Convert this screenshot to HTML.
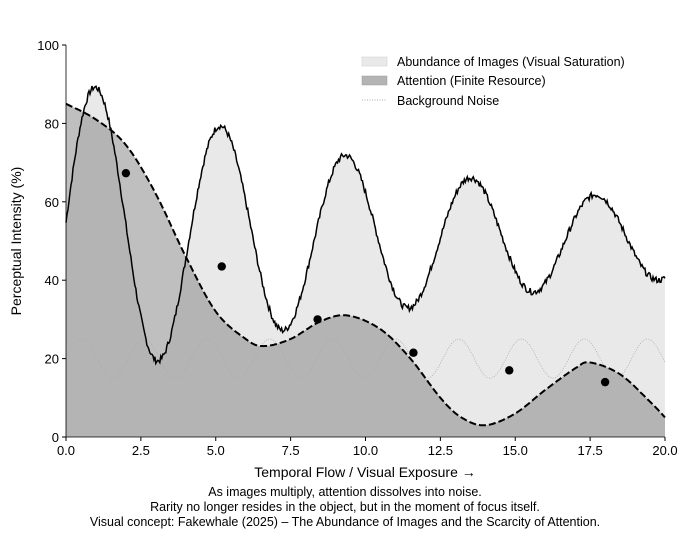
<!DOCTYPE html>
<html><head><meta charset="utf-8"><style>
body{margin:0;background:#fff;width:690px;height:538px;overflow:hidden}
svg{font-family:"Liberation Sans","DejaVu Sans",sans-serif}
</style></head><body>
<svg id="s" width="690" height="538" xmlns="http://www.w3.org/2000/svg"></svg>
<script>
const s=document.getElementById('s');
const X0=66,X1=665,Y0=437,Y1=45;
const px=x=>X0+(X1-X0)*x/20, py=y=>Y0-(Y0-Y1)*y/100;
let h='';
let sol=[];let seed=7;function rnd(){seed=(seed*9301+49297)%233280;return seed/233280-0.5;}
for(let i=0;i<=600;i++){const x=20*i/600;const v=52-0.1*x+40*Math.exp(-0.07*x)*Math.sin(1.503*x+0.068)+rnd()*1.6;sol.push([x,v]);}
const k=[[0,85],[1,81],[2,74.5],[3,62],[4,46],[5,32],[6,25],[6.6,23.2],[7.5,25],[8.5,29.5],[9.4,31],[10.5,27.5],[11.5,20],[12.5,10],[13.2,5],[14,3],[15,6],[16,12],[17,17.5],[17.5,19],[18.5,16],[19.5,9],[20,5]];
let das=[];
for(let i=0;i<k.length-1;i++){const p0=k[Math.max(0,i-1)],p1=k[i],p2=k[i+1],p3=k[Math.min(k.length-1,i+2)];
for(let t=0;t<1;t+=0.05){const t2=t*t,t3=t2*t;
const f=(a,b,c,d)=>0.5*((2*b)+(-a+c)*t+(2*a-5*b+4*c-d)*t2+(-a+3*b-3*c+d)*t3);
das.push([f(p0[0],p1[0],p2[0],p3[0]),f(p0[1],p1[1],p2[1],p3[1])]);}}
das.push([20,5]);
const pth=a=>a.map((p,i)=>(i?'L':'M')+px(p[0]).toFixed(1)+' '+py(p[1]).toFixed(1)).join('');
const area=a=>pth(a)+`L${px(20)} ${py(0)}L${px(0)} ${py(0)}Z`;
h+=`<path d="${area(sol)}" fill="#c8c8c8" fill-opacity="0.4"/>`;
h+=`<path d="${area(das)}" fill="#808080" fill-opacity="0.5"/>`;
let noi=[];for(let i=0;i<=400;i++){const x=20*i/400;noi.push([x,20+5*Math.cos(2.99*(x-0.5))]);}
h+=`<path d="${pth(noi)}" fill="none" stroke="#aaa" stroke-width="0.8" stroke-dasharray="1,1.5"/>`;
h+=`<path d="${pth(sol)}" fill="none" stroke="#000" stroke-width="1.5"/>`;
h+=`<path d="${pth(das)}" fill="none" stroke="#000" stroke-width="2" stroke-dasharray="7,3"/>`;
[[2,67.3],[5.2,43.5],[8.4,30],[11.6,21.5],[14.8,17],[18,14]].forEach(p=>h+=`<circle cx="${px(p[0])}" cy="${py(p[1])}" r="4.2" fill="#000"/>`);
h+=`<line x1="${X0}" y1="${Y1}" x2="${X0}" y2="${Y0}" stroke="#000" stroke-width="0.8"/><line x1="${X0}" y1="${Y0}" x2="${X1}" y2="${Y0}" stroke="#000" stroke-width="0.8"/>`;
for(let i=0;i<=8;i++){const x=px(i*2.5);h+=`<line x1="${x}" y1="${Y0}" x2="${x}" y2="${Y0+4}" stroke="#000"/><text x="${x}" y="${Y0+18}" font-size="13" text-anchor="middle">${(i*2.5).toFixed(1)}</text>`;}
for(let i=0;i<=5;i++){const y=py(i*20);h+=`<line x1="${X0-4}" y1="${y}" x2="${X0}" y2="${y}" stroke="#000"/><text x="${X0-7}" y="${y+5}" font-size="13" text-anchor="end">${i*20}</text>`;}
h+=`<text x="365" y="477" font-size="14" text-anchor="middle">Temporal Flow / Visual Exposure →</text>`;
h+=`<text transform="translate(21,241) rotate(-90)" font-size="14" text-anchor="middle">Perceptual Intensity (%)</text>`;
h+=`<text x="345" y="496" font-size="12.5" text-anchor="middle">As images multiply, attention dissolves into noise.</text>`;
h+=`<text x="345" y="511" font-size="12.5" text-anchor="middle">Rarity no longer resides in the object, but in the moment of focus itself.</text>`;
h+=`<text x="345" y="526" font-size="12.5" text-anchor="middle">Visual concept: Fakewhale (2025) – The Abundance of Images and the Scarcity of Attention.</text>`;
h+=`<rect x="362" y="57" width="25" height="9" fill="#e9e9e9" stroke="#ccc" stroke-width="0.5"/><text x="397" y="66" font-size="12.5">Abundance of Images (Visual Saturation)</text>`;
h+=`<rect x="362" y="76" width="25" height="9" fill="#b4b4b4" stroke="#999" stroke-width="0.5"/><text x="397" y="85" font-size="12.5">Attention (Finite Resource)</text>`;
h+=`<line x1="362" y1="100" x2="387" y2="100" stroke="#aaa" stroke-dasharray="1,1.5"/><text x="397" y="105" font-size="12.5">Background Noise</text>`;
s.innerHTML=h;
</script>
</body></html>
